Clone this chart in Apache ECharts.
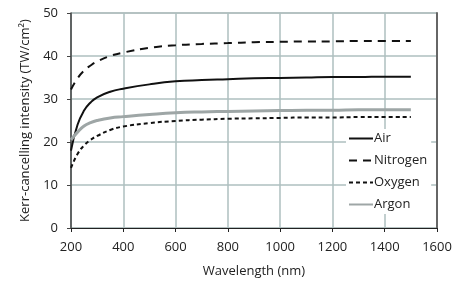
<!DOCTYPE html>
<html>
<head>
<meta charset="utf-8">
<script src="https://cdn.jsdelivr.net/npm/echarts@6/dist/echarts.min.js"></script>
<style>
html,body{margin:0;padding:0;background:#fff;}
#c{width:463px;height:284px;}
</style>
</head>
<body>
<div id="c"></div>
<script>
const wavelengths = [200, 225, 250, 275, 300, 350, 400, 500, 600, 700, 800, 900, 1000, 1100, 1200, 1300, 1400, 1500];
const air      = [18.0, 24.0, 27.3, 29.2, 30.4, 31.7, 32.4, 33.4, 34.1, 34.4, 34.6, 34.8, 34.9, 35.0, 35.1, 35.1, 35.2, 35.2];
const nitrogen = [32.2, 34.8, 36.6, 37.8, 38.7, 40.0, 40.8, 41.9, 42.5, 42.8, 43.0, 43.2, 43.3, 43.4, 43.4, 43.5, 43.5, 43.5];
const oxygen   = [14.0, 17.2, 19.2, 20.5, 21.4, 22.8, 23.6, 24.4, 24.9, 25.2, 25.4, 25.5, 25.6, 25.7, 25.7, 25.8, 25.8, 25.8];
const argon    = [20.5, 22.3, 23.7, 24.5, 25.0, 25.6, 25.9, 26.4, 26.8, 27.0, 27.1, 27.2, 27.3, 27.4, 27.4, 27.5, 27.5, 27.5];
const seriesNames = ['Air', 'Nitrogen', 'Oxygen', 'Argon'];

const font = '"Open Sans", "DejaVu Sans", sans-serif';
const pair = arr => wavelengths.map((w, i) => [w, arr[i]]);

const chart = echarts.init(document.getElementById('c'), null, {renderer: 'canvas'});
chart.setOption({
  animation: false,
  backgroundColor: '#fff',
  textStyle: {fontFamily: font},
  grid: {left: 71, right: 26, top: 13, bottom: 56, show: true, borderColor: '#999', borderWidth: 1, backgroundColor: 'transparent'},
  legend: {
    orient: 'vertical',
    left: 346, top: 129,
    itemWidth: 24, itemHeight: 14, itemGap: 9,
    backgroundColor: '#fff',
    padding: [3, 4, 3, 2],
    itemStyle: {opacity: 0},
    textStyle: {fontFamily: font, fontSize: 13, color: '#222', padding: [0, 0, 0, -4]},
    data: seriesNames
  },
  xAxis: {
    type: 'value', min: 200, max: 1600, interval: 200,
    name: 'Wavelength (nm)', nameLocation: 'middle', nameGap: 37,
    nameTextStyle: {fontFamily: font, fontSize: 13, color: '#222'},
    axisLine: {show: true, lineStyle: {color: '#222', width: 1.2}},
    axisTick: {show: true, length: 4, lineStyle: {color: '#222'}},
    axisLabel: {fontFamily: font, fontSize: 13, color: '#222', margin: 13, formatter: v => String(v)},
    splitLine: {show: true, lineStyle: {color: '#aebfbf', width: 1.5}}
  },
  yAxis: [{
    type: 'value', min: 0, max: 50, interval: 10,
    name: 'Kerr-cancelling intensity (TW/cm²)', nameLocation: 'middle', nameGap: 35,
    nameTextStyle: {fontFamily: font, fontSize: 13, color: '#222'},
    axisLine: {show: true, lineStyle: {color: '#444', width: 1.5}},
    axisTick: {show: true, length: 4, lineStyle: {color: '#444'}},
    axisLabel: {fontFamily: font, fontSize: 13, color: '#222', margin: 13},
    splitLine: {show: true, lineStyle: {color: '#aebfbf', width: 1.5}}
  }, {
    type: 'value', min: 0, max: 50, interval: 10, position: 'right',
    axisLine: {show: true, lineStyle: {color: '#666', width: 2}},
    axisTick: {show: false}, axisLabel: {show: false}, splitLine: {show: false}
  }],
  series: [
    {name: 'Air', type: 'line', smooth: true, symbol: 'none', data: pair(air),
     lineStyle: {color: '#111', width: 2}, itemStyle: {color: '#111'}},
    {name: 'Nitrogen', type: 'line', smooth: true, symbol: 'none', data: pair(nitrogen),
     lineStyle: {color: '#111', width: 2, type: [8, 6]}, itemStyle: {color: '#111'}},
    {name: 'Oxygen', type: 'line', smooth: true, symbol: 'none', data: pair(oxygen),
     lineStyle: {color: '#111', width: 2, type: [4, 3]}, itemStyle: {color: '#111'}},
    {name: 'Argon', type: 'line', smooth: true, symbol: 'none', data: pair(argon),
     lineStyle: {color: '#9ea6a6', width: 3}, itemStyle: {color: '#9ea6a6'}}
  ]
});
</script>
</body>
</html>
